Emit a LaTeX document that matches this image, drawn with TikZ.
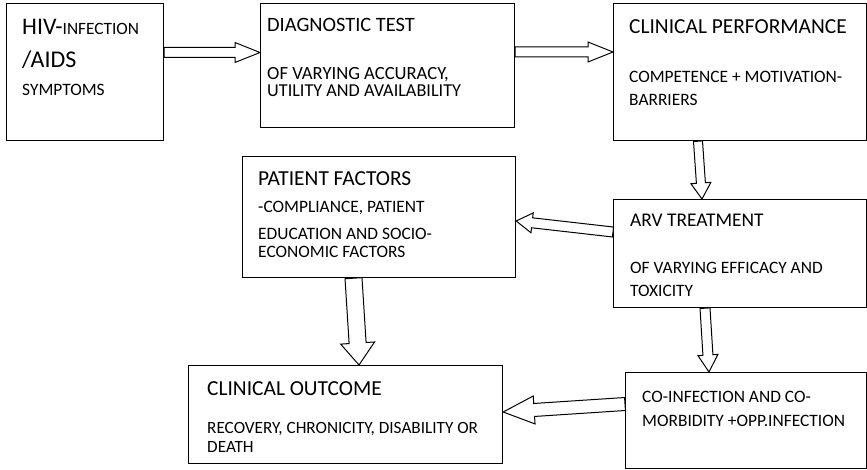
\documentclass[tikz,border=0pt]{standalone}
\usepackage{fontspec}
\setmainfont{Carlito}
\usetikzlibrary{calc}
\newcommand\fs[1]{\fontsize{#1}{#1}\selectfont}
\newcommand\blockarrow[5]{%
  \coordinate (bah) at ($(#2)!#5!(#1)$);
  \draw[blk] ($(#1)!#3!90:(#2)$) -- ($(bah)!#3!-90:(#1)$) -- ($(bah)!#4!-90:(#1)$) -- (#2)
    -- ($(bah)!#4!90:(#1)$) -- ($(bah)!#3!90:(#1)$) -- ($(#1)!#3!-90:(#2)$) -- cycle;
}
\begin{document}
\begin{tikzpicture}[x=1pt,y=-1pt,
  box/.style={draw=black, line width=1.2pt, fill=white, inner sep=0pt, anchor=north west},
  txt/.style={inner sep=0pt, anchor=base west, text=black},
  blk/.style={draw=black, line width=1pt, fill=white, line join=miter}]
\useasboundingbox (0,0) rectangle (867,470);
% boxes
\node[box, minimum width=157.5pt, minimum height=137pt] (b1) at (5.5,3) {};
\node[box, minimum width=254pt, minimum height=124pt] (b2) at (260,3) {};
\node[box, minimum width=253pt, minimum height=137pt] (b3) at (613,3) {};
\node[box, minimum width=273pt, minimum height=121pt] (b4) at (242,156) {};
\node[box, minimum width=253pt, minimum height=108pt] (b5) at (613,199) {};
\node[box, minimum width=314pt, minimum height=98pt] (b6) at (188,365) {};
\node[box, minimum width=241pt, minimum height=96pt] (b7) at (625,372) {};
% texts
\node[txt] (t1a) at (22,35) {\fs{23.8}HIV-\fs{17.3}INFECTION};
\node[txt] (t1b) at (22,68) {\fs{24}/AIDS};
\node[txt] (t1c) at (22,96) {\fs{17.4}SYMPTOMS};
\node[txt] (t2a) at (267,32) {\fs{20.4}DIAGNOSTIC TEST};
\node[txt] (t2b) at (267,80) {\fs{18.6}OF VARYING ACCURACY,};
\node[txt] (t2c) at (267,97) {\fs{18.2}UTILITY AND AVAILABILITY};
\node[txt] (t3a) at (629,34) {\fs{21.4}CLINICAL PERFORMANCE};
\node[txt] (t3b) at (629,83) {\fs{17.4}COMPETENCE + MOTIVATION-};
\node[txt] (t3c) at (629,106) {\fs{17.4}BARRIERS};
\node[txt] (t4a) at (258,186) {\fs{21.4}PATIENT FACTORS};
\node[txt] (t4b) at (258,213) {\fs{17.4}-COMPLIANCE, PATIENT};
\node[txt] (t4c) at (258,240) {\fs{17.4}EDUCATION AND SOCIO-};
\node[txt] (t4d) at (258,258) {\fs{17.4}ECONOMIC FACTORS};
\node[txt] (t5a) at (630,227) {\fs{19.4}ARV TREATMENT};
\node[txt] (t5b) at (630,274) {\fs{17.4}OF VARYING EFFICACY AND};
\node[txt] (t5c) at (630,297) {\fs{17.4}TOXICITY};
\node[txt] (t6a) at (207,395) {\fs{21.4}CLINICAL OUTCOME};
\node[txt] (t6b) at (207,433) {\fs{17.2}RECOVERY, CHRONICITY, DISABILITY OR};
\node[txt] (t6c) at (207,452) {\fs{17.2}DEATH};
\node[txt] (t7a) at (642,402) {\fs{17.4}CO-INFECTION AND CO-};
\node[txt] (t7b) at (642,426) {\fs{17.4}MORBIDITY +OPP.INFECTION};
% arrow end points on the boxes
\coordinate (a1s) at (b1.east |- 0,52.5);
\coordinate (a1e) at (b2.west |- 0,52.5);
\coordinate (a2s) at (b2.east |- 0,52);
\coordinate (a2e) at (b3.west |- 0,52);
\coordinate (a3s) at (b3.south -| 698,0);
\coordinate (a3e) at (b5.north -| 702,0);
\coordinate (a4s) at (b5.west |- 0,232);
\coordinate (a4e) at (b4.east |- 0,221);
\coordinate (a5s) at (b4.south -| 353.5,0);
\coordinate (a5e) at (b6.north -| 359,0);
\coordinate (a6s) at (b5.south -| 705,0);
\coordinate (a6e) at (b7.north -| 709,0);
\coordinate (a7s) at (b7.west |- 0,404);
\coordinate (a7e) at (b6.east |- 0,412);
% block arrows
\blockarrow{a1s}{a1e}{5pt}{10pt}{25pt}
\blockarrow{a2s}{a2e}{5pt}{10pt}{25pt}
\blockarrow{a3s}{a3e}{4.5pt}{10pt}{16pt}
\blockarrow{a4s}{a4e}{5pt}{10pt}{16pt}
\blockarrow{a5s}{a5e}{8.5pt}{17pt}{22pt}
\blockarrow{a6s}{a6e}{5pt}{10pt}{17pt}
\blockarrow{a7s}{a7e}{6.5pt}{14pt}{31pt}
\end{tikzpicture}
\end{document}
